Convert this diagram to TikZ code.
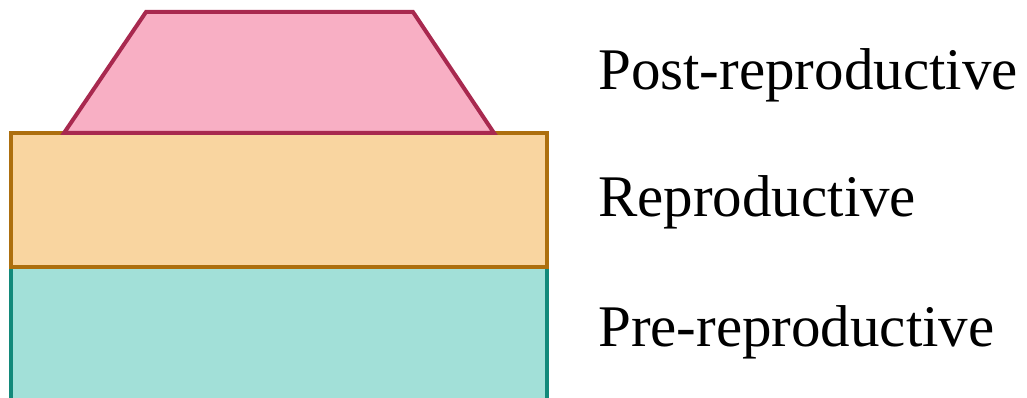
\documentclass[tikz,border=0pt]{standalone}
\usepackage{fontspec}
\setmainfont{Liberation Serif}
\definecolor{pinkfill}{HTML}{F8AFC4}
\definecolor{pinkline}{HTML}{A8294F}
\definecolor{orangefill}{HTML}{F9D5A0}
\definecolor{orangeline}{HTML}{AD6F0E}
\definecolor{tealfill}{HTML}{A2E0D8}
\definecolor{tealline}{HTML}{12897A}
\tikzset{
  layer/.style={line width=4pt, line join=miter},
  lbl/.style={anchor=base west, inner sep=0pt, font=\fontsize{59}{60}\selectfont, text=black}
}
\begin{document}
\begin{tikzpicture}[x=1pt,y=-1pt]
\useasboundingbox (0,0) rectangle (1027,398);
\draw[layer, fill=tealfill, draw=tealline] (11,267) rectangle (547,430);
\draw[layer, fill=orangefill, draw=orangeline] (11,133) rectangle (547,267);
\draw[layer, fill=pinkfill, draw=pinkline] (64,133) -- (146,12) -- (413,12) -- (494,133) -- cycle;
\node[lbl] (post) at (598,90) {Post-reproductive};
\node[lbl] (rep) at (598,216) {Reproductive};
\node[lbl] (pre) at (598,346) {Pre-reproductive};
\end{tikzpicture}
\end{document}
